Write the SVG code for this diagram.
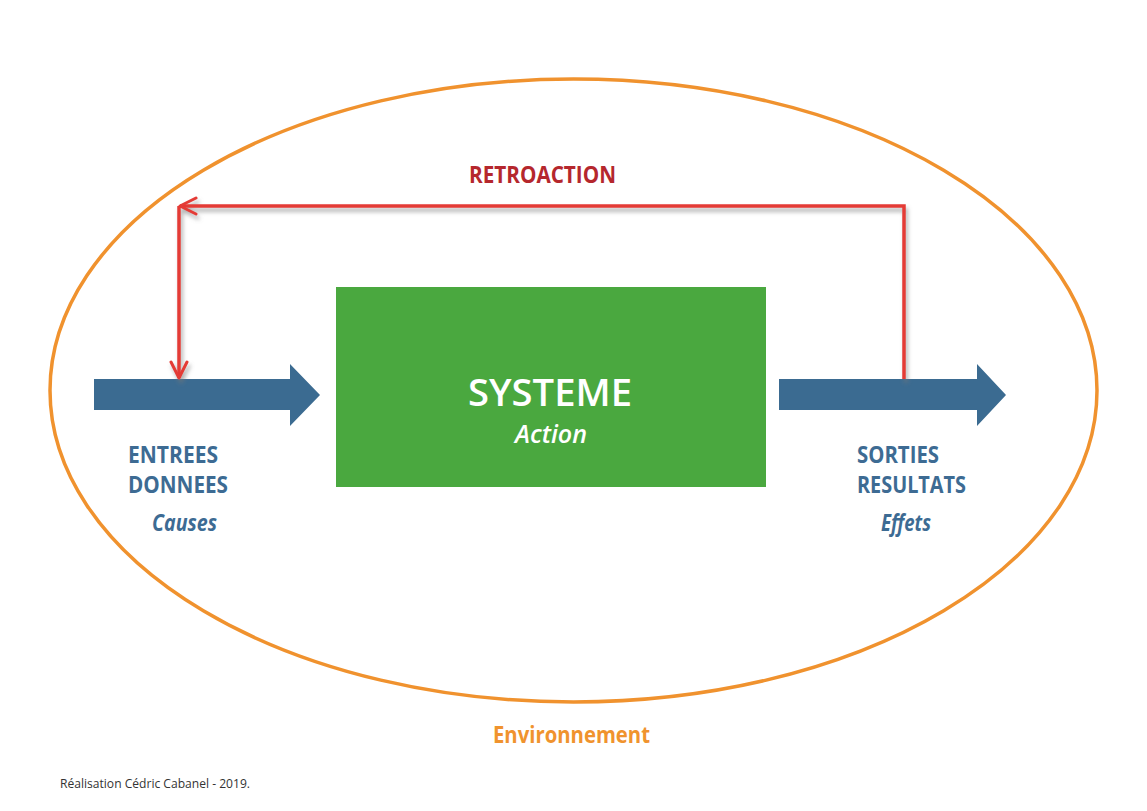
<svg xmlns="http://www.w3.org/2000/svg" width="1147" height="811" viewBox="0 0 1147 811">
<defs>
<style>
.t{font-family:"Open Sans","Liberation Sans",sans-serif;font-weight:700}
.blue{fill:#3d6b93;font-size:23px}
.it{font-style:italic}
.flow{fill:#3b6b91}
.fb{fill:none;stroke:#e43a35;stroke-width:3.5}
</style>
<marker id="chev" viewBox="0 0 20 20" refX="18" refY="10" markerWidth="20" markerHeight="20" markerUnits="userSpaceOnUse" orient="auto">
<path d="M2,2 L18,10 L2,18" fill="none" stroke="#e43a35" stroke-width="3" stroke-linecap="round" stroke-linejoin="round"/>
</marker>
<filter id="sh" x="-10%" y="-50%" width="120%" height="200%">
<feDropShadow dx="2" dy="4" stdDeviation="2" flood-color="#777" flood-opacity="0.6"/>
</filter>
</defs>
<rect width="1147" height="811" fill="#fff"/>
<g id="environment">
<ellipse cx="573.5" cy="390.5" rx="523.5" ry="311.5" fill="none" stroke="#f0922e" stroke-width="3.5"/>
<text class="t" x="493" y="743" font-size="23" fill="#f0932e" textLength="157" lengthAdjust="spacingAndGlyphs">Environnement</text>
</g>
<g id="system">
<rect x="336" y="287" width="430" height="200" fill="#4aa83f"/>
<text class="t" x="550" y="406" font-size="38" fill="#fff" text-anchor="middle" textLength="164" lengthAdjust="spacingAndGlyphs" style="font-weight:600">SYSTEME</text>
<text class="t it" x="551" y="443" font-size="26" fill="#fff" text-anchor="middle" textLength="72" lengthAdjust="spacingAndGlyphs" style="font-weight:600">Action</text>
</g>
<g id="inputs">
<text class="t blue" x="128" y="463" textLength="90" lengthAdjust="spacingAndGlyphs">ENTREES</text>
<text class="t blue" x="128" y="493" textLength="100" lengthAdjust="spacingAndGlyphs">DONNEES</text>
<text class="t blue it" x="152" y="531" textLength="65" lengthAdjust="spacingAndGlyphs">Causes</text>
</g>
<g id="outputs">
<text class="t blue" x="857" y="463" textLength="82" lengthAdjust="spacingAndGlyphs">SORTIES</text>
<text class="t blue" x="857" y="493" textLength="109" lengthAdjust="spacingAndGlyphs">RESULTATS</text>
<text class="t blue it" x="881" y="531" textLength="50" lengthAdjust="spacingAndGlyphs">Effets</text>
</g>
<g id="feedback-label">
<text class="t" x="469" y="183" font-size="23" fill="#b5272d" textLength="147" lengthAdjust="spacingAndGlyphs">RETROACTION</text>
</g>
<g id="connectors">
<polygon class="flow" points="94,379 290,379 290,364 320,395 290,426 290,410 94,410"/>
<polygon class="flow" points="779,379 977,379 977,364 1006,395 977,426 977,410 779,410"/>
<g filter="url(#sh)">
<path class="fb" d="M904,379 V206 H180" marker-end="url(#chev)"/>
<path class="fb" d="M179,206 V378" marker-end="url(#chev)"/>
</g>
</g>
<text x="60" y="788" font-family="'Open Sans','Liberation Sans',sans-serif" font-size="12" fill="#333" textLength="190" lengthAdjust="spacingAndGlyphs">Réalisation Cédric Cabanel - 2019.</text>
</svg>
